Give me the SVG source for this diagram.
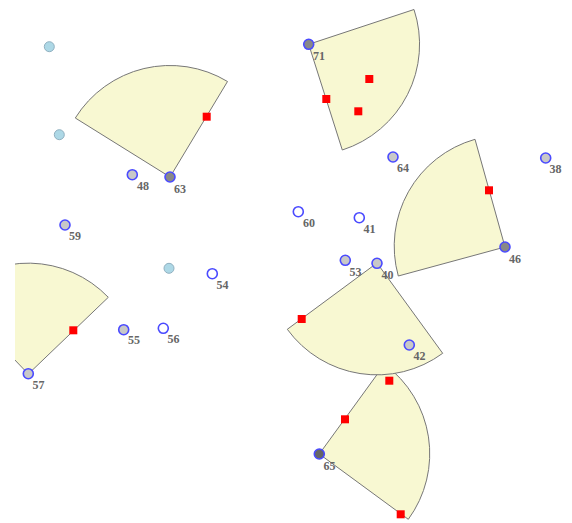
<svg xmlns="http://www.w3.org/2000/svg" width="572" height="523" viewBox="0 0 572 523">
<style>
.sec{fill:#f8f8d2;stroke:#777;stroke-width:1}
.sq{fill:#ff0000}
.n{stroke:#4a4aff;stroke-width:1.6}
.g{fill:#c8c8c8}
.d{fill:#888}
.k{fill:#666}
.w{fill:#fff}
.lb{fill:#add8e6;stroke:#90b0c0;stroke-width:1}
text{font-family:"Liberation Serif",serif;font-weight:bold;font-size:12px;fill:#666}
</style>
<defs>
<clipPath id="clipL"><rect x="15" y="0" width="557" height="523"/></clipPath>
</defs>
<rect width="572" height="523" fill="#fff"/>
<g id="sectors">
<path id="sector6" class="sec" clip-path="url(#clipL)" d="M28.3,374 L-48.4,293.8 A111,111 0 0,1 108.3,297.3 Z"/>
<path id="sector1" class="sec" d="M170,177 L75.3,118 A111.5,111.5 0 0,1 227.5,81.5 Z"/>
<path id="sector2" class="sec" d="M308.7,44.3 L414,9.5 A111,111 0 0,1 342.3,150 Z"/>
<path id="sector3" class="sec" d="M505,247 L398.3,276 A111,111 0 0,1 475,139.3 Z"/>
<path id="sector5" class="sec" d="M319.3,454 L384.5,364.3 A111,111 0 0,1 408.3,519.3 Z"/>
<path id="sector4" class="sec" d="M377,263 L442.7,353.3 A111,111 0 0,1 287.3,329.3 Z"/>
</g>
<g id="squares">
<rect class="sq" x="202.7" y="112.7" width="8" height="8"/>
<rect class="sq" x="365.3" y="75" width="8" height="8"/>
<rect class="sq" x="322.3" y="95" width="8" height="8"/>
<rect class="sq" x="354.3" y="107.3" width="8" height="8"/>
<rect class="sq" x="485" y="186.3" width="8" height="8"/>
<rect class="sq" x="297.7" y="315" width="8" height="8"/>
<rect class="sq" x="385.3" y="376.7" width="8" height="8"/>
<rect class="sq" x="341" y="415.3" width="8" height="8"/>
<rect class="sq" x="396.7" y="510.3" width="8" height="8"/>
<rect class="sq" x="69.3" y="326.3" width="8" height="8"/>
</g>
<g id="connectors"></g>
<g id="points">
<circle class="lb" cx="49.3" cy="46.7" r="5"/>
<circle class="lb" cx="59.3" cy="134.7" r="5"/>
<circle class="lb" cx="169" cy="268.3" r="5"/>
</g>
<g id="n48"><circle class="n g" cx="132.3" cy="174.7" r="5"/><text x="137" y="189.5">48</text></g>
<g id="n63"><circle class="n d" cx="170" cy="177" r="5"/><text x="174" y="192.5">63</text></g>
<g id="n71"><circle class="n d" cx="308.7" cy="44.3" r="5"/><text x="313" y="59.5">71</text></g>
<g id="n64"><circle class="n g" cx="393" cy="157" r="5"/><text x="397" y="172">64</text></g>
<g id="n38"><circle class="n g" cx="545.7" cy="158" r="5"/><text x="549.5" y="173">38</text></g>
<g id="n59"><circle class="n g" cx="65" cy="225" r="5"/><text x="69" y="240">59</text></g>
<g id="n60"><circle class="n w" cx="298.3" cy="211.7" r="5"/><text x="303" y="226.5">60</text></g>
<g id="n41"><circle class="n w" cx="359.3" cy="217.7" r="5"/><text x="363.5" y="233">41</text></g>
<g id="n53"><circle class="n g" cx="345.3" cy="260.3" r="5"/><text x="349.5" y="275.5">53</text></g>
<g id="n40"><circle class="n g" cx="377" cy="263.3" r="5"/><text x="381.5" y="278.5">40</text></g>
<g id="n46"><circle class="n d" cx="505" cy="247" r="5"/><text x="509" y="262.5">46</text></g>
<g id="n54"><circle class="n w" cx="212.3" cy="273.7" r="5"/><text x="216.5" y="288.5">54</text></g>
<g id="n55"><circle class="n g" cx="123.7" cy="329.7" r="5"/><text x="128" y="344">55</text></g>
<g id="n56"><circle class="n w" cx="163.3" cy="328.3" r="5"/><text x="167.5" y="343">56</text></g>
<g id="n42"><circle class="n g" cx="409.3" cy="345" r="5"/><text x="413.5" y="359.5">42</text></g>
<g id="n57"><circle class="n g" cx="28.3" cy="373.7" r="5"/><text x="32.5" y="388.5">57</text></g>
<g id="n65"><circle class="n k" cx="319.3" cy="454" r="5"/><text x="323.5" y="469.5">65</text></g>
</svg>
